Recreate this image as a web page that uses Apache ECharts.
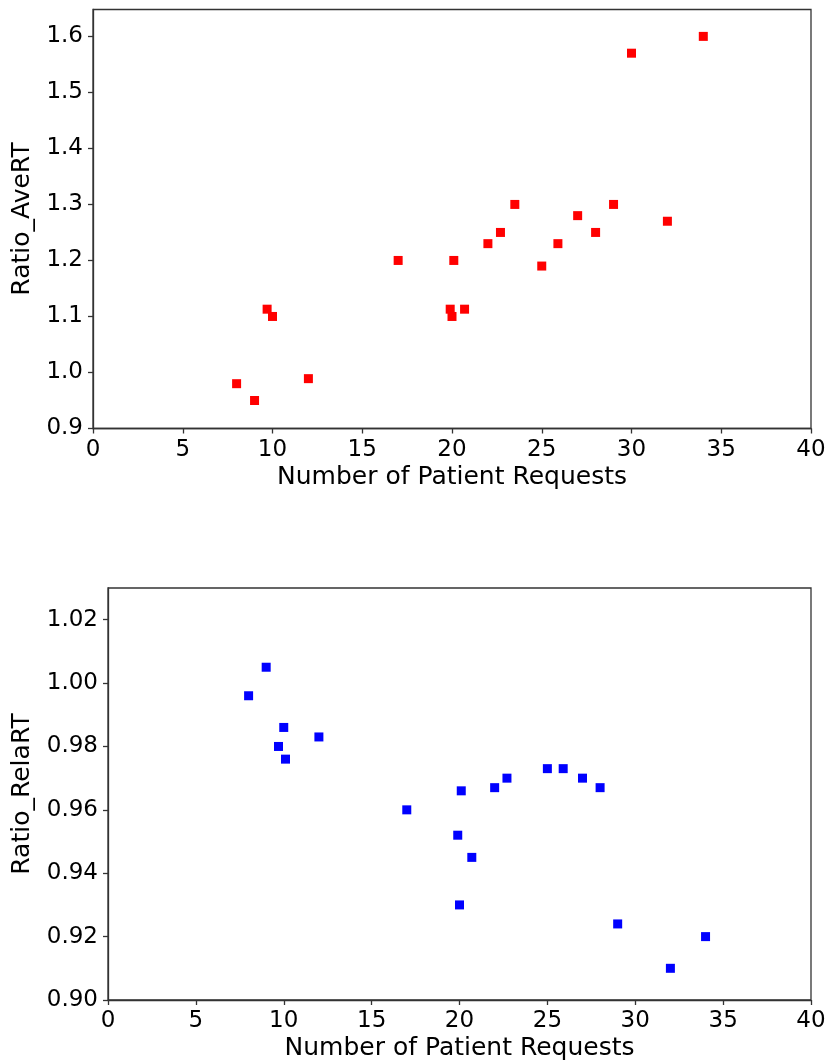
<!DOCTYPE html>
<html>
<head>
<meta charset="utf-8">
<script src="https://cdn.jsdelivr.net/npm/echarts@6/dist/echarts.min.js"></script>
<style>
  html, body { margin: 0; padding: 0; background: #fff; }
  #chart { width: 830px; height: 1064px; }
</style>
</head>
<body>
<div id="chart"></div>
<script>
// Patient requests vs. average response-time ratio
const aveX = [8, 9, 9.7, 10, 12, 17, 19.9, 20, 20.1, 20.7, 22, 22.7, 23.5, 25, 25.9, 27, 28, 29, 30, 32, 34];
const aveY = [0.98, 0.95, 1.113, 1.10, 0.989, 1.20, 1.113, 1.10, 1.20, 1.113, 1.23, 1.25, 1.30, 1.19, 1.23, 1.28, 1.25, 1.30, 1.57, 1.27, 1.60];

// Patient requests vs. relative response-time ratio
const relaX = [8, 9, 9.7, 10, 10.1, 12, 17, 19.9, 20, 20.1, 20.7, 22, 22.7, 25, 25.9, 27, 28, 29, 32, 34];
const relaY = [0.996, 1.005, 0.980, 0.986, 0.976, 0.983, 0.960, 0.952, 0.930, 0.966, 0.945, 0.967, 0.970, 0.973, 0.973, 0.970, 0.967, 0.924, 0.910, 0.920];

// Tick labels
const xTicks = [0, 5, 10, 15, 20, 25, 30, 35, 40];
const aveTicks = [0.9, 1.0, 1.1, 1.2, 1.3, 1.4, 1.5, 1.6];
const relaTicks = [0.90, 0.92, 0.94, 0.96, 0.98, 1.00, 1.02];

const FONT = 'DejaVu Sans';
const AXIS_COLOR = '#333';

function pairs(xs, ys) { return xs.map((x, i) => [x, ys[i]]); }

function xAxisCfg(gridIndex) {
  return {
    type: 'value', gridIndex, min: 0, max: 40,
    name: 'Number of Patient Requests', nameLocation: 'middle', nameGap: 36,
    nameTextStyle: { fontFamily: FONT, fontSize: 25, color: '#000' },
    axisLine: { show: true, lineStyle: { color: AXIS_COLOR, width: 1.3 } },
    axisTick: { show: true, inside: false, length: 5, customValues: xTicks, lineStyle: { color: AXIS_COLOR, width: 1.3 } },
    axisLabel: { customValues: xTicks, margin: 10, fontFamily: FONT, fontSize: 23, color: '#000',
      formatter: v => String(v) },
    splitLine: { show: false }
  };
}

function yAxisCfg(gridIndex, name, min, max, ticks, digits, gap) {
  return {
    type: 'value', gridIndex, min, max,
    name, nameLocation: 'middle', nameGap: gap, nameRotate: 90,
    nameTextStyle: { fontFamily: FONT, fontSize: 25, color: '#000' },
    axisLine: { show: true, lineStyle: { color: AXIS_COLOR, width: 1.3 } },
    axisTick: { show: true, inside: false, length: 5, customValues: ticks, lineStyle: { color: AXIS_COLOR, width: 1.3 } },
    axisLabel: { customValues: ticks, margin: 10, fontFamily: FONT, fontSize: 23, color: '#000',
      formatter: v => Number(v).toFixed(digits) },
    splitLine: { show: false }
  };
}

const gridBase = { show: true, borderColor: AXIS_COLOR, borderWidth: 1.3, backgroundColor: 'transparent', containLabel: false };

const chart = echarts.init(document.getElementById('chart'), null, { renderer: 'canvas' });
chart.setOption({
  animation: false,
  backgroundColor: '#fff',
  grid: [
    Object.assign({ left: 93, right: 19, top: 9.5, height: 419 }, gridBase),
    Object.assign({ left: 108, right: 19, top: 588, height: 412 }, gridBase)
  ],
  xAxis: [xAxisCfg(0), xAxisCfg(1)],
  yAxis: [
    yAxisCfg(0, 'Ratio_AveRT', 0.9, 1.648, aveTicks, 1, 58),
    yAxisCfg(1, 'Ratio_RelaRT', 0.90, 1.03, relaTicks, 2, 73)
  ],
  series: [
    { type: 'scatter', xAxisIndex: 0, yAxisIndex: 0, data: pairs(aveX, aveY),
      symbol: 'rect', symbolSize: 9, itemStyle: { color: '#ff0000', opacity: 1 } },
    { type: 'scatter', xAxisIndex: 1, yAxisIndex: 1, data: pairs(relaX, relaY),
      symbol: 'rect', symbolSize: 9, itemStyle: { color: '#0000ff', opacity: 1 } }
  ]
});
</script>
</body>
</html>
